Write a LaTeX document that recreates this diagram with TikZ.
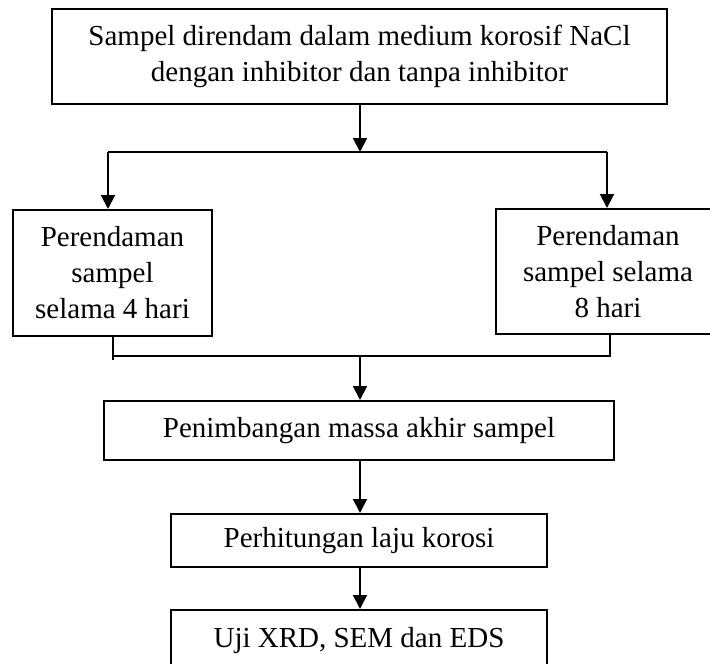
\documentclass[tikz,border=0pt]{standalone}
\usepackage{fontspec}
\setmainfont{Liberation Serif}
\usetikzlibrary{arrows.meta}
\begin{document}
\begin{tikzpicture}[x=1pt,y=-1pt,
  box/.style={draw,line width=2pt,rectangle,inner sep=0pt,align=center,font=\fontsize{29}{36}\selectfont},
  conn/.style={line width=2pt},
  arr/.style={line width=2pt,-{Triangle[width=14pt,length=14pt]}}]
\clip (0,0) rectangle (710,664);
\fill[white] (0,0) rectangle (710,664);
\node[box,minimum width=615pt,minimum height=95pt] (top) at (359.5,56.5) {Sampel direndam dalam medium korosif NaCl\\dengan inhibitor dan tanpa inhibitor};
\node[box,minimum width=199pt,minimum height=126pt] (p4) at (112.5,273) {Perendaman\\sampel\\selama 4 hari};
\node[box,minimum width=224pt,minimum height=125pt] (p8) at (608,271.5) {Perendaman\\sampel selama\\8 hari};
\node[box,minimum width=510pt,minimum height=59pt] (mass) at (359,430.5) {Penimbangan massa akhir sampel};
\node[box,minimum width=376pt,minimum height=53pt] (laju) at (359,540.5) {Perhitungan laju korosi};
\node[box,minimum width=376pt,minimum height=62pt] (uji) at (359,641) {Uji XRD, SEM dan EDS};
\coordinate (s) at (360,152);
\coordinate (sl) at (108,152);
\coordinate (sr) at (607,152);
\coordinate (j1) at (113,360);
\coordinate (j2) at (113,356);
\coordinate (j3) at (610,356);
\coordinate (jm) at (360,356);
\draw[arr] (top.south -| s) -- (s);
\draw[conn] (sl) -- (sr);
\draw[arr] (sl) -- (sl |- p4.north);
\draw[arr] (sr) -- (sr |- p8.north);
\draw[conn] (p4.south -| j1) -- (j1);
\draw[conn] (j2) -- (j3) -- (j3 |- p8.south);
\draw[arr] (jm) -- (jm |- mass.north);
\draw[arr] (mass.south -| jm) -- (jm |- laju.north);
\draw[arr] (laju.south -| jm) -- (jm |- uji.north);
\end{tikzpicture}
\end{document}
